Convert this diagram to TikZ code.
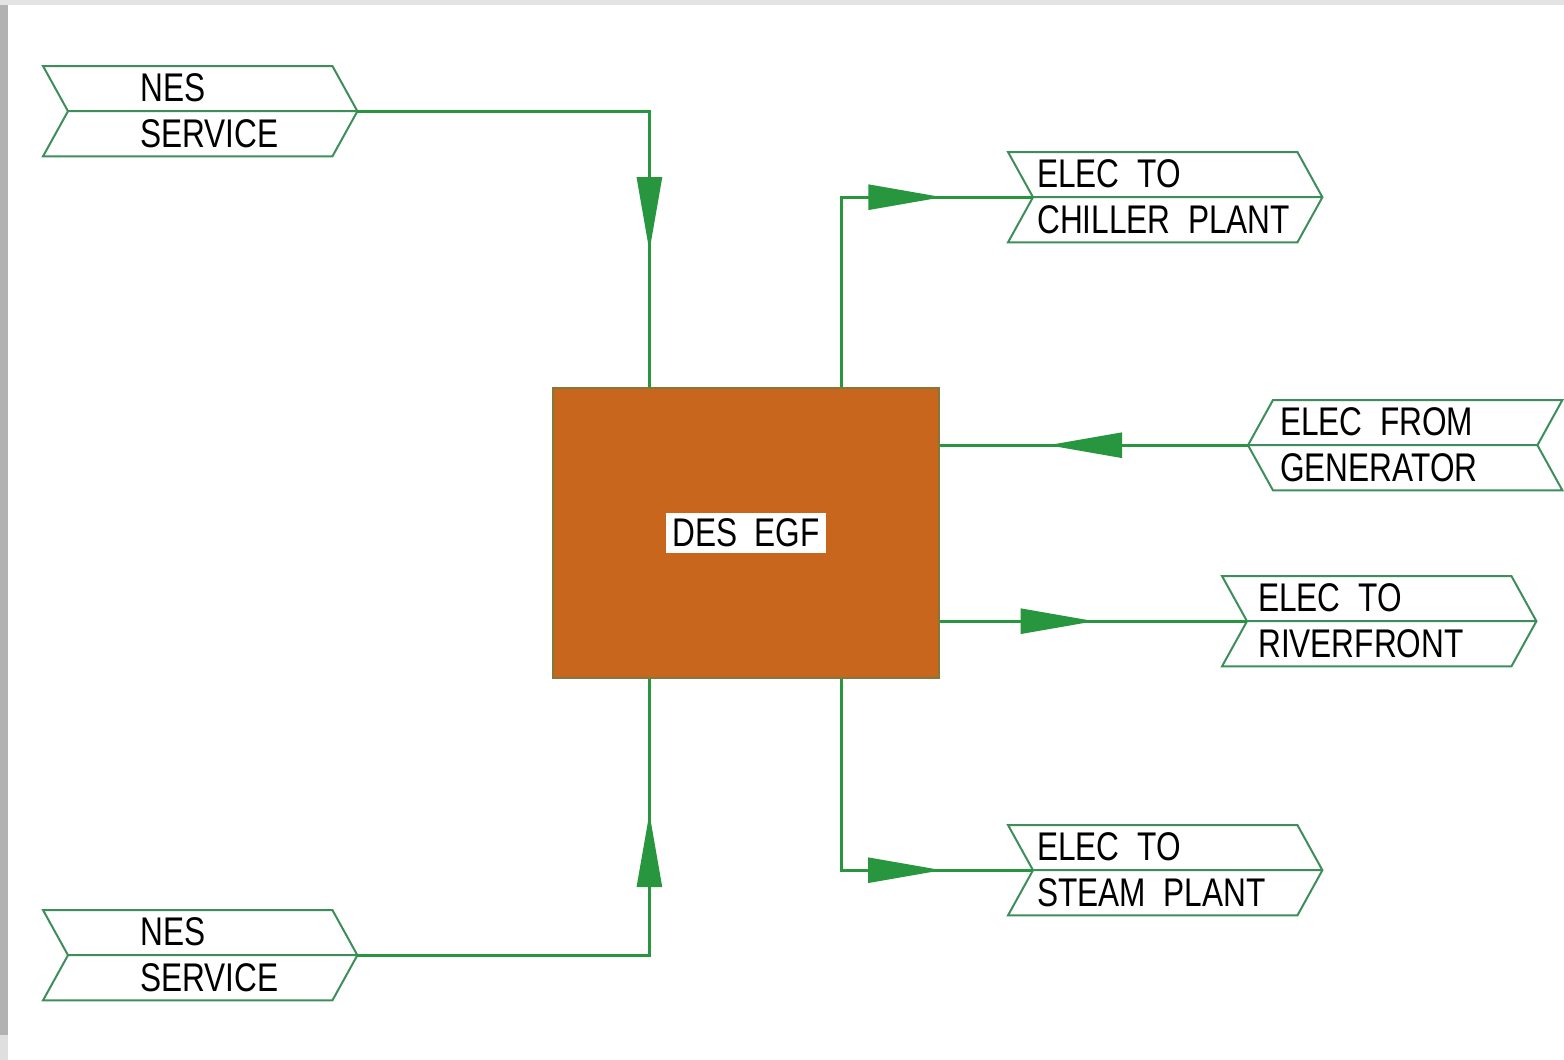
\documentclass[tikz,border=0pt]{standalone}
\usepackage{fontspec}
\newfontfamily\cadfont[FakeStretch=0.79]{Liberation Sans}
\usetikzlibrary{arrows.meta,decorations.markings}
\definecolor{flow}{RGB}{40,150,62}
\definecolor{chev}{RGB}{62,142,92}
\definecolor{egf}{RGB}{201,102,30}
\definecolor{egfline}{RGB}{130,120,60}
\newcommand\chevR[1]{\draw[chevline] (#1.north west) -- ([xshift=-25pt]#1.north east) -- (#1.east) -- ([xshift=-25pt]#1.south east) -- (#1.south west) -- ([xshift=25pt]#1.west) -- cycle ([xshift=25pt]#1.west) -- (#1.east);}
\newcommand\chevL[1]{\draw[chevline] (#1.west) -- ([xshift=25pt]#1.north west) -- (#1.north east) -- ([xshift=-25pt]#1.east) -- (#1.south east) -- ([xshift=25pt]#1.south west) -- cycle (#1.west) -- ([xshift=-25pt]#1.east);}
\begin{document}
\begin{tikzpicture}[x=1pt,y=-1pt,
  chevbox/.style={inner sep=0pt, minimum width=314pt, minimum height=90pt, anchor=north west},
  chevline/.style={draw=chev, line width=2pt, line join=miter},
  lbl/.style={font=\cadfont\fontsize{40pt}{46pt}\selectfont, align=left, inner sep=0pt, anchor=west},
  flowline/.style={color=flow, line width=2.6pt},
  arrowat/.style={postaction={decorate, decoration={markings, mark=at position #1 with {\arrow{Triangle[length=74pt,width=25pt]}}}}}
]
\useasboundingbox (0,0) rectangle (1564,1060);
% frame
\fill[gray!60] (0,0) rectangle (1564,1060);
\fill[gray!22] (0,0) rectangle (1564,5);
\fill[gray!25] (0,1035) rectangle (8,1060);
\fill[white] (8,5) rectangle (1564,1060);

% central box
\node[fill=egf, draw=egfline, line width=1.2pt, minimum width=386pt, minimum height=290pt, inner sep=0pt] (egf) at (746,533) {};
\node[fill=white, inner xsep=6pt, inner ysep=6pt, font=\cadfont\fontsize{40pt}{46pt}\selectfont] (egflabel) at (egf.center) {DES\ \ EGF};

% chevron boxes
\node[chevbox] (nes1) at (43,66) {};
\node[chevbox] (nes2) at (43,910) {};
\node[chevbox] (chiller) at (1008,152) {};
\node[chevbox] (gen) at (1248,400) {};
\node[chevbox] (river) at (1222,576) {};
\node[chevbox] (steam) at (1008,825) {};
\chevR{nes1}
\chevR{nes2}
\chevR{chiller}
\chevL{gen}
\chevR{river}
\chevR{steam}

\node[lbl] (nes1t) at (140,111) {NES\\SERVICE};
\node[lbl] (nes2t) at (140,955) {NES\\SERVICE};
\node[lbl] (chillert) at (1037,197) {ELEC\ \ TO\\CHILLER\ \ PLANT};
\node[lbl] (gent) at (1280,445) {ELEC\ \ FROM\\GENERATOR};
\node[lbl] (rivert) at (1258,621) {ELEC\ \ TO\\RIVERFRONT};
\node[lbl] (steamt) at (1037,870) {ELEC\ \ TO\\STEAM\ \ PLANT};

% connectors
\draw[flowline, arrowat=432pt] (nes1.east) -| ([xshift=97pt]egf.north west);
\draw[flowline, arrowat=434pt] (nes2.east) -| ([xshift=97pt]egf.south west);
\draw[flowline, arrowat=291pt] ([xshift=-98pt]egf.north east) |- ([xshift=25pt]chiller.west);
\draw[flowline, arrowat=292pt] ([xshift=-98pt]egf.south east) |- ([xshift=25pt]steam.west);
\draw[flowline, arrowat=200pt] (gen.west) -- (egf.east |- gen.west);
\draw[flowline, arrowat=155pt] (egf.east |- river.west) -- ([xshift=25pt]river.west);
\end{tikzpicture}
\end{document}
